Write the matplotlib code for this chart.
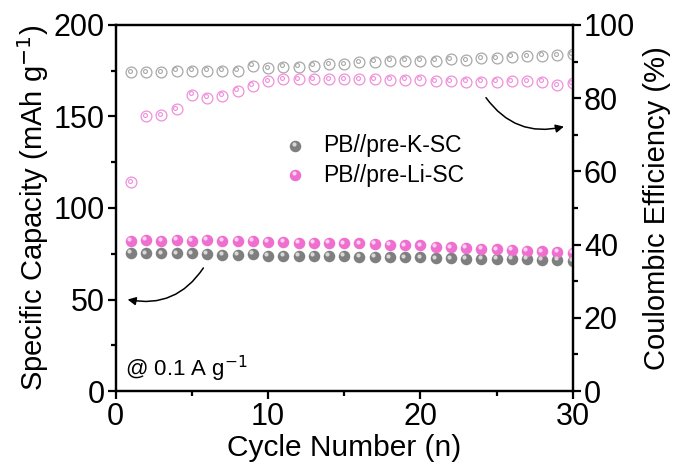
import matplotlib
matplotlib.use("Agg")
import matplotlib.pyplot as plt
from matplotlib.transforms import offset_copy

plt.rcParams['font.family'] = ['Liberation Sans', 'DejaVu Sans']

# data
cycles = list(range(1, 31))
cap_k = [75.6, 75.2, 75.2, 75.2, 75.2, 74.9, 74.3, 74.3, 74.7, 73.8,
         73.8, 73.8, 73.8, 73.8, 73.8, 73.4, 73.4, 73.0, 73.0, 73.0,
         72.5, 72.5, 72.3, 72.0, 72.0, 72.0, 72.0, 71.6, 71.6, 71.2]
cap_li = [82.2, 82.5, 82.2, 82.5, 82.2, 82.5, 82.2, 82.2, 81.8, 81.4,
          81.4, 81.0, 81.0, 81.0, 80.7, 80.7, 80.3, 80.0, 79.6, 79.6,
          78.9, 78.5, 78.1, 77.8, 77.4, 77.0, 76.7, 76.3, 76.0, 75.6]
ce_k = [87.1, 87.1, 87.1, 87.5, 87.5, 87.5, 87.5, 87.5, 88.9, 88.2,
        88.6, 88.6, 88.9, 89.3, 89.3, 89.8, 90.0, 90.2, 90.2, 90.2,
        90.2, 90.7, 90.4, 90.9, 90.9, 91.3, 91.5, 91.6, 91.8, 92.0]
ce_li = [57.0, 75.0, 75.4, 77.0, 80.9, 80.1, 80.7, 82.0, 83.4, 84.7,
         85.2, 85.2, 85.2, 85.2, 85.2, 85.2, 85.2, 85.0, 85.0, 85.0,
         84.7, 84.7, 84.5, 84.5, 84.5, 84.7, 84.7, 84.5, 83.6, 84.1]

gray = '#7f7f7f'
pink = '#ee6fcf'
gray_open = '#a8a8a8'
pink_open = '#f08fda'

fig = plt.figure(figsize=(6.73, 4.70), dpi=100)
ax = fig.add_axes([0.172, 0.168, 0.679, 0.779])
ax2 = ax.twinx()

hl = offset_copy(ax.transData, fig=fig, x=-1.3, y=1.3, units='points')
hl2 = offset_copy(ax2.transData, fig=fig, x=-1.0, y=1.0, units='points')

# capacity: shaded spheres
ax.plot(cycles, cap_k, 'o', color=gray, ms=8.3, mec='none', zorder=3)
ax.plot(cycles, cap_k, 'o', color='#d8d8d8', ms=3, mec='none', transform=hl, zorder=4)
ax.plot(cycles, cap_li, 'o', color=pink, ms=8.3, mec='none', zorder=3)
ax.plot(cycles, cap_li, 'o', color='#fbd3f0', ms=3, mec='none', transform=hl, zorder=4)

# coulombic efficiency: hollow circles
ax2.plot(cycles, ce_k, 'o', mfc='none', mec=gray_open, ms=7.8, mew=0.9)
ax2.plot(cycles, ce_k, 'o', mfc='none', mec=gray_open, ms=2.8, mew=0.8, transform=hl2)
ax2.plot(cycles, ce_li, 'o', mfc='none', mec=pink_open, ms=7.8, mew=0.9)
ax2.plot(cycles, ce_li, 'o', mfc='none', mec=pink_open, ms=2.8, mew=0.8, transform=hl2)

ax.set_xlim(0, 30)
ax.set_ylim(0, 200)
ax2.set_ylim(0, 100)
ax.set_xticks([0, 10, 20, 30])
ax.set_xticks([5, 15, 25], minor=True)
ax.set_yticks([0, 50, 100, 150, 200])
ax.set_yticks([25, 75, 125, 175], minor=True)
ax2.set_yticks([0, 20, 40, 60, 80, 100])
ax2.set_yticks([10, 30, 50, 70, 90], minor=True)

for a in (ax, ax2):
    for s in a.spines.values():
        s.set_linewidth(1.6)
    a.tick_params(which='major', length=6, width=1.6, labelsize=22, direction='out', pad=2)
    a.tick_params(which='minor', length=3.5, width=1.6, direction='out')

ax.set_xlabel('Cycle Number (n)', fontsize=21.5, labelpad=1)
ax.set_ylabel('Specific Capacity (mAh g$^{-1}$)', fontsize=21, labelpad=2)
ax2.set_ylabel('Coulombic Efficiency (%)', fontsize=21, labelpad=6)

# legend made of markers + text
ax.plot([11.8], [134], 'o', color=gray, ms=8.3, mec='none')
ax.plot([11.8], [134], 'o', color='#d8d8d8', ms=3, mec='none', transform=hl)
ax.plot([11.8], [118], 'o', color=pink, ms=8.3, mec='none')
ax.plot([11.8], [118], 'o', color='#fbd3f0', ms=3, mec='none', transform=hl)
ax.text(13.6, 134, 'PB//pre-K-SC', fontsize=16.5, va='center')
ax.text(13.6, 118, 'PB//pre-Li-SC', fontsize=16.5, va='center')

ax.text(0.6, 12, '@ 0.1 A g$^{-1}$', fontsize=16, va='center')

ax.annotate('', xy=(0.6, 50.3), xytext=(5.85, 68.5),
            arrowprops=dict(arrowstyle='-|>', color='black', lw=1.1,
                            connectionstyle='arc3,rad=-0.35', mutation_scale=12))
ax.annotate('', xy=(29.6, 144.8), xytext=(24.2, 161.5),
            arrowprops=dict(arrowstyle='-|>', color='black', lw=1.1,
                            connectionstyle='arc3,rad=0.35', mutation_scale=12))

fig.savefig('out.png', dpi=100)
